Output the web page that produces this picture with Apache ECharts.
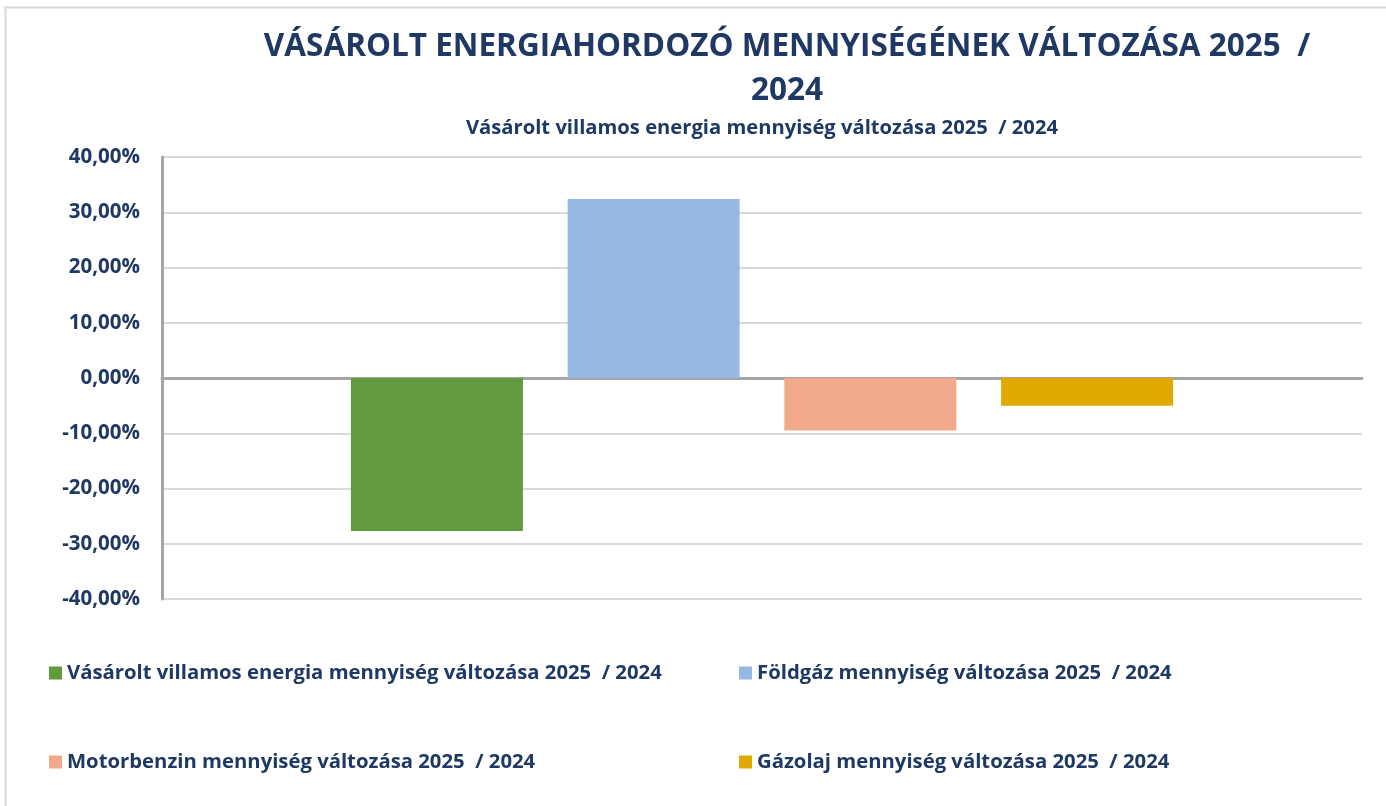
<!DOCTYPE html>
<html>
<head>
<meta charset="utf-8">
<script src="https://cdn.jsdelivr.net/npm/echarts@6/dist/echarts.min.js"></script>
<style>
  html, body { margin: 0; padding: 0; background: #fff; }
  #chart { width: 1386px; height: 806px; }
</style>
</head>
<body>
<div id="chart"></div>
<script>
// adatok
const seriesNames = [
    'Vásárolt villamos energia mennyiség változása 2025  / 2024',
    'Földgáz mennyiség változása 2025  / 2024',
    'Motorbenzin mennyiség változása 2025  / 2024',
    'Gázolaj mennyiség változása 2025  / 2024'
];
const seriesValues = [-27.7, 32.4, -9.5, -5.0];
const seriesColors = ['#629a3e', '#97b8e0', '#f1a98b', '#e1aa00'];
const categories = ['Vásárolt villamos energia mennyiség változása 2025  / 2024'];

const navy = '#1f3864';
const font = 'Open Sans';

const chart = echarts.init(document.getElementById('chart'));

const option = {
    backgroundColor: '#fff',
    animation: false,
    title: [
        {
            text: 'VÁSÁROLT ENERGIAHORDOZÓ MENNYISÉGÉNEK VÁLTOZÁSA 2025  /\n2024',
            left: 782,
            top: 20,
            textAlign: 'center',
            textStyle: {
                color: navy, fontFamily: font, fontWeight: 'bold',
                fontSize: 31.5, lineHeight: 44
            }
        },
        {
            text: categories[0],
            left: 757,
            top: 113,
            textAlign: 'center',
            textStyle: { color: navy, fontFamily: font, fontWeight: 'bold', fontSize: 20.2 }
        }
    ],
    graphic: [{
        type: 'rect',
        shape: { x: 5.5, y: 7.5, width: 1400, height: 820 },
        style: { fill: 'none', stroke: '#d9d9d9', lineWidth: 2 },
        silent: true
    }],
    legend: [
        {
            data: [seriesNames[0], seriesNames[2]],
            left: 44, top: 658, orient: 'vertical', itemGap: 69,
            itemWidth: 13, itemHeight: 13, icon: 'rect',
            textStyle: { color: navy, fontFamily: font, fontWeight: 'bold', fontSize: 20.3 }
        },
        {
            data: [seriesNames[1], seriesNames[3]],
            left: 734, top: 658, orient: 'vertical', itemGap: 69,
            itemWidth: 13, itemHeight: 13, icon: 'rect',
            textStyle: { color: navy, fontFamily: font, fontWeight: 'bold', fontSize: 20.3 }
        }
    ],
    grid: { left: 162, right: 24, top: 157, bottom: 207, containLabel: false },
    xAxis: {
        type: 'category',
        data: categories,
        axisLine: { onZero: true, lineStyle: { color: '#a6a6a6', width: 3 } },
        axisTick: { show: false },
        axisLabel: { show: false }
    },
    yAxis: {
        type: 'value',
        min: -40, max: 40, interval: 10,
        axisLine: { show: true, lineStyle: { color: '#a6a6a6', width: 3 } },
        axisTick: { show: false },
        splitLine: { lineStyle: { color: '#d9d9d9', width: 2 } },
        axisLabel: {
            margin: 22,
            color: navy, fontFamily: font, fontWeight: 'bold', fontSize: 20.5,
            formatter: v => v.toFixed(2).replace('.', ',') + '%'
        }
    },
    series: seriesNames.map((name, i) => ({
        name: name,
        type: 'bar',
        data: [seriesValues[i]],
        barWidth: 172,
        barGap: '26%',
        itemStyle: { color: seriesColors[i] }
    }))
};
chart.setOption(option);
</script>
</body>
</html>
